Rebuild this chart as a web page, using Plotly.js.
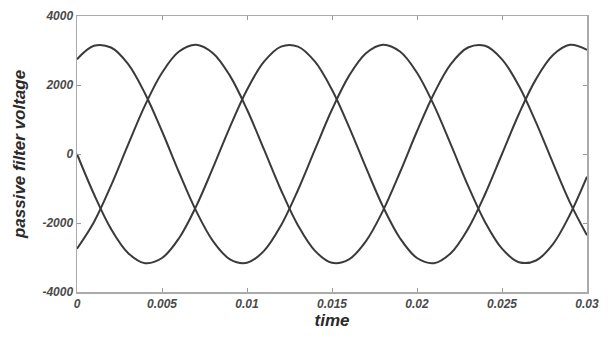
<!DOCTYPE html>
<html>
<head>
<meta charset="utf-8">
<script src="https://cdn.plot.ly/plotly-3.0.1.min.js"></script>
<style>html,body{margin:0;padding:0;background:#fff;}#chart{width:609px;height:338px;}</style>
</head>
<body>
<div id="chart"></div>
<script>
var time = [0,0.001,0.002,0.003,0.004,0.005,0.006,0.007,0.008,0.009,0.010,0.011,0.012,0.013,0.014,0.015,0.016,0.017,0.018,0.019,0.020,0.021,0.022,0.023,0.024,0.025,0.026,0.027,0.028,0.029,0.030];
var phaseA = [0,-1167,-2170,-2868,-3164,-3015,-2442,-1527,-397,788,1863,2676,3114,3114,2676,1863,788,-397,-1527,-2442,-3015,-3164,-2868,-2170,-1167,0,1167,2170,2868,3164,3015];
var phaseB = [2745,3136,3086,2612,1754,659,-529,-1642,-2525,-3053,-3153,-2809,-2071,-1043,133,1289,2265,2922,3169,2971,2356,1409,265,-916,-1969,-2745,-3136,-3086,-2612,-1754,-659];
var phaseC = [-2745,-1969,-916,265,1409,2356,2971,3169,2922,2265,1289,133,-1043,-2071,-2809,-3153,-3053,-2525,-1642,-529,659,1754,2612,3086,3136,2745,1969,916,-265,-1409,-2356];
var xTicks = [0,0.005,0.01,0.015,0.02,0.025,0.03];
var xTickText = ['0','0.005','0.01','0.015','0.02','0.025','0.03'];
var yTicks = [-4000,-2000,0,2000,4000];
var yTickText = ['-4000','-2000','0','2000','4000'];

var lineStyle = {color:'#3a3a3a', width:2, shape:'spline', smoothing:1};
var traces = [phaseA, phaseB, phaseC].map(function(v){
  return {x: time, y: v, type:'scatter', mode:'lines', line: lineStyle, hoverinfo:'skip'};
});
var tickFont = {family:'Liberation Sans, Arial, sans-serif', size:12, color:'#4a4a4a', weight:'bold', style:'italic'};
var titleFont = {family:'Liberation Sans, Arial, sans-serif', size:17, color:'#2a2a2a', weight:'bold', style:'italic'};
var layout = {
  width:609, height:338,
  margin:{l:77, r:22, t:16, b:46},
  paper_bgcolor:'#fff', plot_bgcolor:'#fff',
  showlegend:false,
  xaxis:{range:[0,0.03], tickvals:xTicks, ticktext:xTickText, ticks:'inside', ticklen:4, tickcolor:'#999',
    showline:true, linecolor:'#aaa', linewidth:1.5, mirror:'ticks', showgrid:false, zeroline:false,
    tickfont:tickFont, title:{text:'time', font:titleFont, standoff:3}},
  yaxis:{range:[-4000,4000], tickvals:yTicks, ticktext:yTickText, ticks:'inside', ticklen:4, tickcolor:'#999',
    showline:true, linecolor:'#aaa', linewidth:1.5, mirror:'ticks', showgrid:false, zeroline:false,
    tickfont:tickFont, title:{text:'passive filter voltage', font:titleFont, standoff:12}}
};
Plotly.newPlot('chart', traces, layout, {staticPlot:true});
</script>
</body>
</html>
